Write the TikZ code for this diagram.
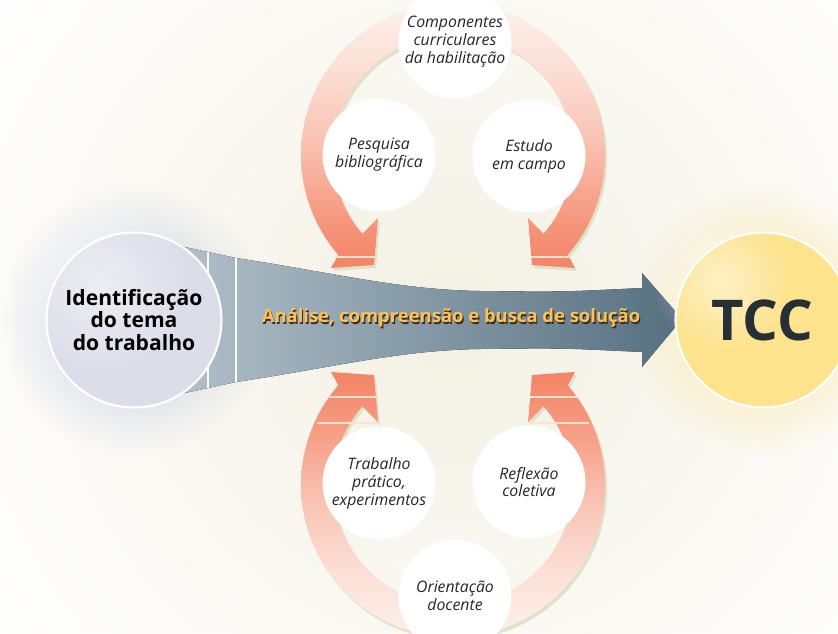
\documentclass[tikz,border=0pt]{standalone}
\usepackage{fontspec}
\setmainfont{Open Sans}
\usetikzlibrary{fadings}

\definecolor{bgcream}{RGB}{244,241,228}
\definecolor{salm}{RGB}{244,132,102}
\definecolor{ringpale}{RGB}{253,240,234}
\definecolor{ringshade}{RGB}{222,226,202}
\definecolor{headline}{RGB}{253,226,206}
\definecolor{funnell}{RGB}{176,191,201}
\definecolor{funnelr}{RGB}{86,112,128}
\definecolor{lavender}{RGB}{219,221,233}
\definecolor{glowblue}{RGB}{196,203,225}
\definecolor{tccyellow}{RGB}{253,227,140}
\definecolor{glowyellow}{RGB}{253,232,160}
\definecolor{tccink}{RGB}{38,46,54}
\definecolor{labgold}{RGB}{252,192,88}
\definecolor{labsh}{RGB}{58,44,24}

\tikzfading[name=glowfade, inner color=transparent!0, outer color=transparent!100]
\pgfdeclareverticalshading{armdown}{100bp}{color(0bp)=(salm); color(25bp)=(salm);
  color(33bp)=(salm!85!ringpale); color(50bp)=(salm!40!ringpale);
  color(63bp)=(salm!15!ringpale); color(75bp)=(ringpale); color(100bp)=(ringpale)}
\pgfdeclareverticalshading{armup}{100bp}{color(0bp)=(ringpale); color(25bp)=(ringpale);
  color(37bp)=(salm!15!ringpale); color(50bp)=(salm!40!ringpale);
  color(67bp)=(salm!85!ringpale); color(75bp)=(salm); color(100bp)=(salm)}

% braco da seta circular, centro em (0,0)
\newcommand{\armpath}{(270:152) arc[start angle=270, end angle=139, radius=152]
  -- (-122,113) -- (-79,110) -- (-75,63) -- (139:120)
  arc[start angle=139, end angle=270, radius=120] -- cycle}

\begin{document}
\begin{tikzpicture}[x=0.02cm, y=-0.02cm,
    bubble/.style={circle, fill=white, minimum size=2.26cm, inner sep=0pt,
      align=center, text=black!85, font=\fontsize{9}{10.2}\selectfont\itshape},
    hub/.style={circle, draw=white, line width=1.2pt, minimum size=3.5cm},
    hubtxt/.style={align=center, font=\fontsize{12}{12.8}\selectfont\bfseries},
    busca/.style={font=\fontsize{10.5}{12}\selectfont\bfseries, text=labgold},
    segline/.style={white!90!funnell, line width=0.7pt},
    hline/.style={headline, line width=0.8pt}]

    % fundo
    \useasboundingbox (0,0) rectangle (838,633);
    \clip (0,0) rectangle (838,633);
    \fill[white] (0,0) rectangle (838,633);
    \fill[bgcream, path fading=glowfade] (453,320) circle (560);
    \fill[glowblue, path fading=glowfade] (134,320) circle (135);
    \fill[glowyellow, path fading=glowfade] (763,320) circle (135);

    % setas circulares
    \foreach \sx/\sy/\cy/\sh in {1/1/155/armdown, -1/1/155/armdown,
      1/-1/485/armup, -1/-1/485/armup}
    {
      \fill[ringshade, shift={(2,3)}, shift={(453,\cy)}, xscale=\sx, yscale=\sy] \armpath;
      \shade[shading=\sh, shift={(453,\cy)}, xscale=\sx, yscale=\sy] \armpath;
    }
    \foreach \sx in {1,-1}
    {
      \draw[hline, shift={(453,155)}, xscale=\sx] (-116,102) -- (-78,102);
      \draw[hline, shift={(453,485)}, xscale=\sx, yscale=-1] (-124,88) -- (-77,88);
      \draw[hline, shift={(453,485)}, xscale=\sx, yscale=-1] (-136,62) -- (-75,62);
    }

    \foreach \nm/\px/\py/\txt in {
      comp/455/42/{Componentes\\curriculares\\da habilitação},
      pesq/379/155/{Pesquisa\\bibliográfica},
      estu/529/156/{Estudo\\em campo},
      trab/379/483/{Trabalho\\prático,\\experimentos},
      refl/529/482/{Reflexão\\coletiva},
      orie/455/596/{Orientação\\docente}}
      \node[bubble] (\nm) at (\px,\py) {\txt};

    % seta principal
    \fill[left color=funnell, right color=funnelr]
      (180,246) -- (236,258) .. controls (330,272) and (400,290) .. (480,291)
      .. controls (560,292) .. (642,288) -- (642,273) -- (682,319) -- (642,367)
      -- (642,352) .. controls (560,348) .. (480,349)
      .. controls (400,350) and (330,368) .. (236,382) -- (180,394) -- cycle;
    \draw[segline] (208,252) -- (208,388);
    \draw[segline] (236,258) -- (236,382);

    \node[busca, text=labsh] (buscash) at (452.2,319.4)
      {Análise, compreensão e busca de solução};
    \node[busca] (busca) at (451,318) {Análise, compreensão e busca de solução};

    % circulos das pontas
    \node[hub, fill=lavender] (tema) at (134,320) {};
    \fill[white, opacity=0.5, path fading=glowfade] (100,284) circle (90);
    \node[hubtxt] (tematxt) at (tema) {Identificação\\do tema\\do trabalho};

    \node[hub, fill=tccyellow] (tcc) at (763,320) {};
    \fill[white, opacity=0.5, path fading=glowfade] (722,282) circle (70);
    \node[font=\fontsize{32}{34}\selectfont\bfseries, text=tccink] (tcctxt) at (762,320) {TCC};

  \end{tikzpicture}
\end{document}
